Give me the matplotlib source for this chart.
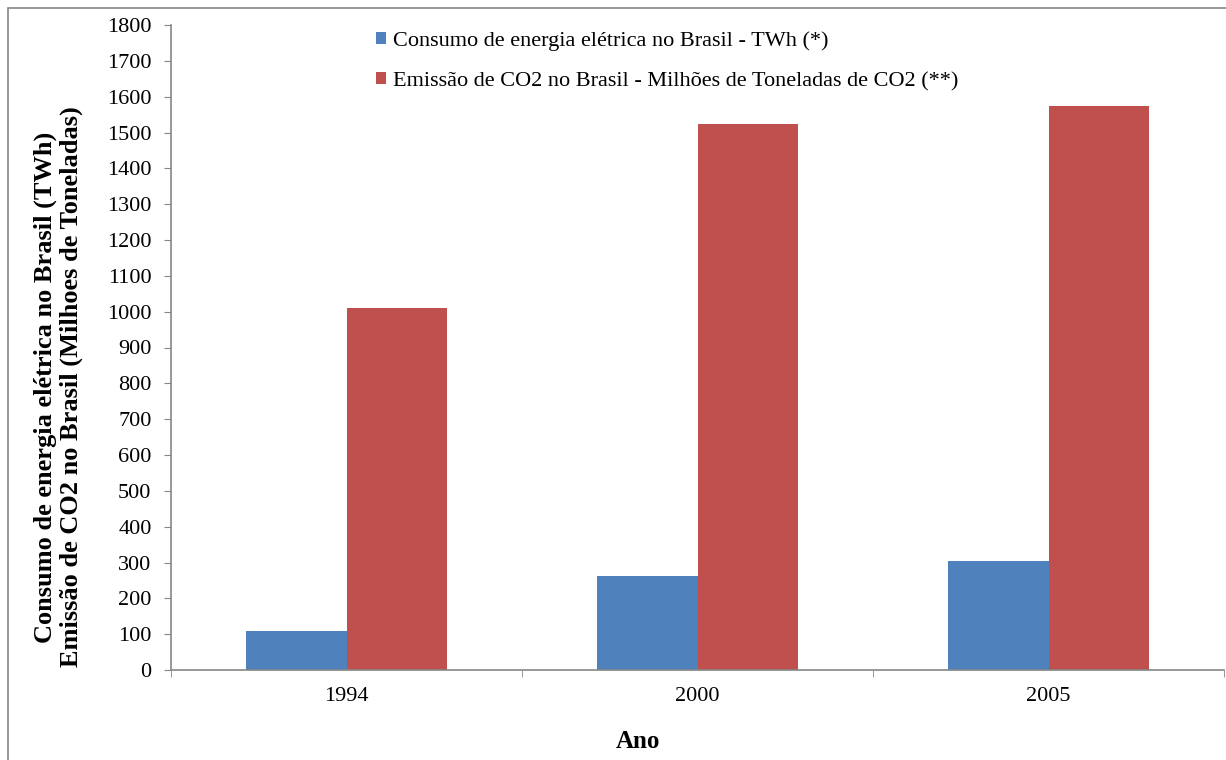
import matplotlib
matplotlib.use("Agg")
import matplotlib.pyplot as plt
import numpy as np
from matplotlib.patches import Rectangle

anos = ["1994", "2000", "2005"]
consumo_twh = [109, 261, 304]
emissao_co2 = [1010, 1524, 1574]
legenda = [
    "Consumo de energia elétrica no Brasil - TWh (*)",
    "Emissão de CO2 no Brasil - Milhões de Toneladas de CO2 (**)",
]
yticks = list(range(0, 1900, 100))

plt.rcParams["font.family"] = ["Liberation Serif", "DejaVu Serif"]
grey = "#868686"

fig = plt.figure(figsize=(12.26, 7.6), dpi=100)
ax = fig.add_axes([171 / 1226, 1 - 670 / 760, (1224 - 171) / 1226, (670 - 25) / 760])

x = np.arange(len(anos))
w = 1 / 3.5
b1 = ax.bar(x - w / 2, consumo_twh, w, color="#4F81BD", label=legenda[0])
b2 = ax.bar(x + w / 2, emissao_co2, w, color="#C0504D", label=legenda[1])

ax.set_xlim(-0.5, len(anos) - 0.5)
ax.set_ylim(0, 1800)
ax.set_yticks(yticks)
ax.set_yticklabels([str(v) for v in yticks])
ax.set_xticks(x)
ax.set_xticklabels(anos)
ax.set_xticks(np.arange(len(anos) + 1) - 0.5, minor=True)

for s in ["top", "right"]:
    ax.spines[s].set_visible(False)
for s in ["left", "bottom"]:
    ax.spines[s].set_color(grey)
    ax.spines[s].set_linewidth(1.2)

ax.tick_params(axis="y", length=5, color=grey, labelsize=16, pad=9)
ax.tick_params(axis="x", which="major", length=0, labelsize=16, pad=12)
ax.tick_params(axis="x", which="minor", length=5, color=grey)

ax.legend(handles=[b1, b2], loc="upper left", bbox_to_anchor=(356 / 1226, 1 - 11 / 760),
          bbox_transform=fig.transFigure, frameon=False, fontsize=16,
          handlelength=0.45, handleheight=0.45, handletextpad=0.3, labelspacing=0.95)

fig.text(58 / 1226, 1 - 387 / 760,
         "Consumo de energia elétrica no Brasil (TWh)\nEmissão de CO2 no Brasil (Milhoes de Toneladas)",
         rotation=90, ha="center", va="center", multialignment="center",
         fontsize=19, fontweight="bold", linespacing=1.15)
fig.text(638 / 1226, 1 - 741 / 760, "Ano", ha="center", va="center",
         fontsize=18, fontweight="bold")

fig.patches.append(Rectangle((8 / 1226, -0.1), 1.2, 1 - 8 / 760 + 0.1, transform=fig.transFigure,
                             fill=False, edgecolor=grey, linewidth=1.2))

fig.savefig("out.png", dpi=100)
